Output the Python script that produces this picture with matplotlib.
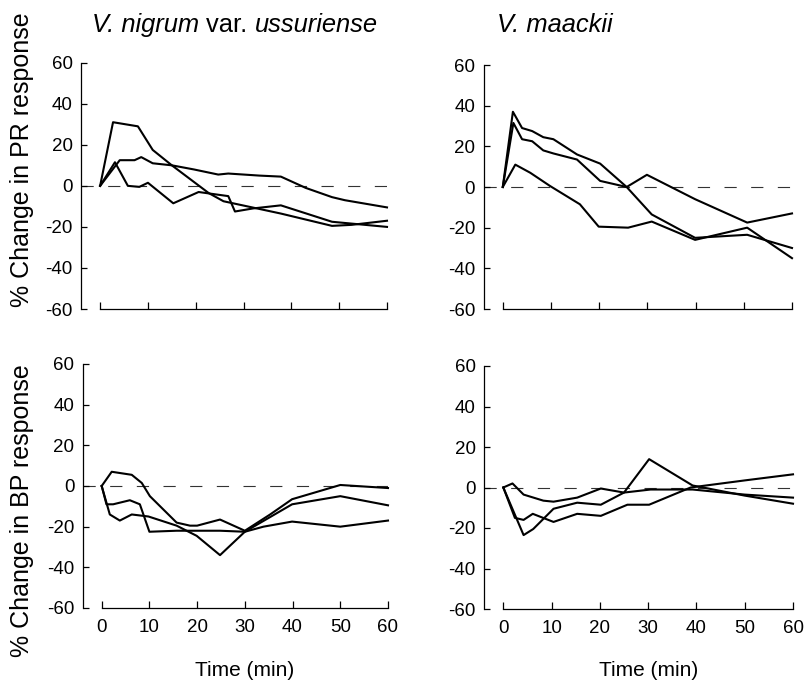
import matplotlib
matplotlib.use('Agg')
import matplotlib.pyplot as plt

plt.rcParams['font.family'] = ['Liberation Sans', 'DejaVu Sans']
plt.rcParams['axes.unicode_minus'] = False

# ---------------- data ----------------
x_ticks = [0, 10, 20, 30, 40, 50, 60]
y_ticks = [-60, -40, -20, 0, 20, 40, 60]
title_left_parts = [('V. nigrum ', 'italic'), ('var. ', 'normal'), ('ussuriense', 'italic')]
title_right_parts = [('V. maackii', 'italic')]
ylabels = ['% Change in PR response', '% Change in BP response']
xlabel = 'Time (min)'

# PR, V. nigrum var. ussuriense
pr_nig_t1 = [0, 2.7, 7.9, 11, 15, 22.7, 25.8, 37.8, 48.5, 52.6, 60]
pr_nig_v1 = [0, 31, 29, 17.5, 10, -3.5, -7.5, -13.5, -19.5, -19, -17]
pr_nig_t2 = [0, 4.1, 7.2, 8.6, 11, 15, 19.6, 24.7, 26.8, 33.3, 37.8, 43, 48.5, 51.2, 60]
pr_nig_v2 = [0, 12.5, 12.5, 14, 11, 10, 8, 5.5, 6, 5, 4.5, -1, -5.5, -7, -10.5]
pr_nig_t3 = [0, 3.1, 5.8, 8.2, 10, 15.3, 20.6, 26.8, 28.2, 32, 37.8, 48.5, 60]
pr_nig_v3 = [0, 11.5, 0, -0.5, 1.5, -8.5, -3, -5, -12.5, -11, -9.5, -17.5, -20]

# PR, V. maackii
pr_maa_t1 = [0, 2.1, 4, 6.1, 8.4, 10.5, 15.4, 20.2, 25.7, 29.9, 39.9, 50.7, 60]
pr_maa_v1 = [0, 37, 29, 27.5, 24.5, 23.5, 16, 11.5, 0, 6, -6, -17.5, -13]
pr_maa_t2 = [0, 2.2, 4, 6.1, 8.4, 10.5, 15.4, 20.2, 25.7, 30.9, 39.9, 50.7, 60]
pr_maa_v2 = [0, 31.5, 23.5, 22.5, 18, 16.5, 13.5, 3, 0, -13.5, -25, -23.5, -30]
pr_maa_t3 = [0, 2.6, 5.7, 9.8, 16, 19.9, 26, 30.9, 39.9, 50.7, 60]
pr_maa_v3 = [0, 11, 7, 0.5, -8.5, -19.5, -20, -17, -26, -20, -35]

# BP, V. nigrum var. ussuriense
bp_nig_t1 = [0, 2.1, 6.3, 8.4, 10.1, 15.7, 18.5, 20, 24.8, 30, 35.3, 39.9, 50, 60]
bp_nig_v1 = [0, 7, 5.5, 1.5, -5, -18, -19.5, -19.5, -16.5, -22, -14, -6.5, 0.5, -1]
bp_nig_t2 = [0, 1, 2.4, 5.9, 8, 10, 15.7, 20, 24.8, 30, 33.9, 39.9, 50, 60]
bp_nig_v2 = [0, -9, -9, -7, -9, -22.5, -22, -22, -22, -22.5, -20, -17.5, -20, -17]
bp_nig_t3 = [0, 1.7, 3.8, 6.3, 9.8, 15.7, 19.9, 24.8, 30, 39.9, 50, 60]
bp_nig_v3 = [0, -14, -17, -14, -15, -19.5, -24.5, -34, -22.5, -9, -5, -9.5]

# BP, V. maackii
bp_maa_t1 = [0, 1.9, 4.2, 8.3, 10.4, 15.3, 20.2, 25, 30.5, 39.2, 50, 60]
bp_maa_v1 = [0, 2, -3.5, -6.5, -7, -5, -0.5, -2.5, -1, -1, -3.5, -5]
bp_maa_t2 = [0, 4.2, 6.2, 10.4, 15.3, 20.2, 25, 30.2, 39.2, 50, 60]
bp_maa_v2 = [0, -23.5, -20.5, -10.5, -7.5, -8.5, -2.5, 14, 1, -4, -8]
bp_maa_t3 = [0, 2.4, 4.2, 6.1, 10.4, 15.3, 20.2, 25.7, 30.2, 38.8, 50, 60]
bp_maa_v3 = [0, -15, -16, -13, -17, -13, -14, -8.5, -8.5, 0, 3.5, 6.5]

panels = [
    [(pr_nig_t1, pr_nig_v1), (pr_nig_t2, pr_nig_v2), (pr_nig_t3, pr_nig_v3)],
    [(pr_maa_t1, pr_maa_v1), (pr_maa_t2, pr_maa_v2), (pr_maa_t3, pr_maa_v3)],
    [(bp_nig_t1, bp_nig_v1), (bp_nig_t2, bp_nig_v2), (bp_nig_t3, bp_nig_v3)],
    [(bp_maa_t1, bp_maa_v1), (bp_maa_t2, bp_maa_v2), (bp_maa_t3, bp_maa_v3)],
]

# ---------------- layout ----------------
W, H = 808, 685
fig = plt.figure(figsize=(W / 100, H / 100), dpi=100)

rects_px = [  # left, top, right, bottom in pixels
    (81, 62.7, 387, 309),
    (483.5, 65, 792, 309),
    (82.6, 364, 388, 608),
    (484, 366, 793, 609),
]

axes = []
for i, (l, t, r, b) in enumerate(rects_px):
    ax = fig.add_axes([l / W, 1 - b / H, (r - l) / W, (b - t) / H])
    ax.set_xlim(-4, 60)
    ax.set_ylim(-60, 60)
    for s in ['top', 'right']:
        ax.spines[s].set_visible(False)
    ax.spines['bottom'].set_bounds(0, 60)
    ax.spines['left'].set_bounds(-60, 60)
    for s in ['bottom', 'left']:
        ax.spines[s].set_linewidth(0.9)
    ax.set_xticks(x_ticks)
    ax.set_yticks(y_ticks)
    ax.set_yticklabels([str(v) for v in y_ticks])
    ax.set_xticklabels([str(v) for v in x_ticks])
    ax.tick_params(axis='x', direction='in', length=5, width=0.9, labelsize=13.5, pad=8)
    ax.tick_params(axis='y', direction='in', length=4, width=0.9, labelsize=13.5, pad=6)
    if i < 2:
        ax.tick_params(axis='x', labelbottom=False)
    ax.axhline(0, color='#333333', lw=0.8, ls=(0, (11, 13)), zorder=1)
    for tt, vv in panels[i]:
        ax.plot(tt, vv, color='black', lw=1.5, clip_on=False, zorder=3)
    axes.append(ax)

# titles: mixed italic / upright pieces, left aligned on a common baseline
renderer = fig.canvas.get_renderer()


def rich_title(x_px, y_px, parts, size=18.4):
    x = x_px
    for s, st in parts:
        txt = fig.text(x / W, 1 - y_px / H, s, fontsize=size, style=st,
                       ha='left', va='baseline')
        x += txt.get_window_extent(renderer).width


rich_title(92, 32, title_left_parts)
rich_title(497, 32, title_right_parts)

# y labels
fig.text(22 / W, 1 - 160 / H, ylabels[0], rotation=90, fontsize=18, ha='center', va='center')
fig.text(22 / W, 1 - 511 / H, ylabels[1], rotation=90, fontsize=18, ha='center', va='center')

# x labels
fig.text(((101.7 + 388) / 2) / W, 1 - 670 / H, xlabel, fontsize=15, ha='center', va='center')
fig.text(((505 + 793) / 2) / W, 1 - 670 / H, xlabel, fontsize=15, ha='center', va='center')

fig.savefig('out.png', dpi=100)
